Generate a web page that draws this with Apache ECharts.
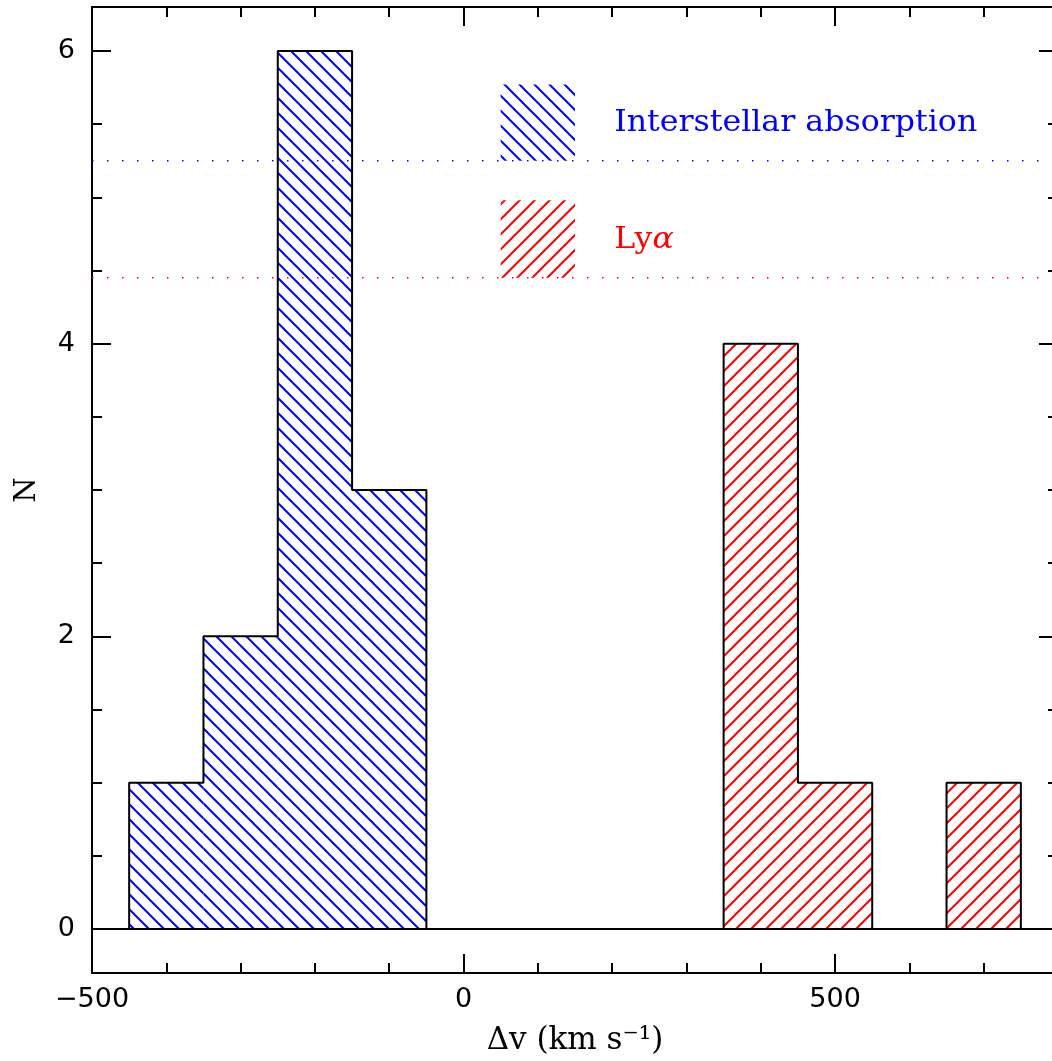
<!DOCTYPE html>
<html>
<head>
<meta charset="utf-8">
<title>Velocity offsets</title>
<script src="https://cdn.jsdelivr.net/npm/echarts@6/dist/echarts.min.js"></script>
<style>
  html, body { margin: 0; padding: 0; background: #fff; overflow: hidden; }
  #chart { width: 1060px; height: 1061px; }
</style>
</head>
<body>
<div id="chart"></div>
<script>
// Histogram bins (km/s), 100 km/s wide
const binCenters = [-400, -300, -200, -100, 0, 100, 200, 300, 400, 500, 600, 700];
const binWidth = 100;
const interstellarCounts = [1, 2, 6, 3, 0, 0, 0, 0, 0, 0, 0, 0];
const lyaCounts = [0, 0, 0, 0, 0, 0, 0, 0, 4, 1, 0, 1];

// Axis ticks
const xMajorTicks = [-500, 0, 500];
const xMinorTicks = [-400, -300, -200, -100, 100, 200, 300, 400, 600, 700];
const yMajorTicks = [0, 2, 4, 6];
const yMinorTicks = [0.5, 1, 1.5, 2.5, 3, 3.5, 4.5, 5, 5.5];

const legendLabels = ['Interstellar absorption', 'Lyα'];

const X_MIN = -500, X_MAX = 800, Y_MIN = -0.3, Y_MAX = 6.3;
const BLUE = '#0000ff', RED = '#ff0000';

// Diagonal hatch tile; dir = 1 for "\" lines, -1 for "/" lines
function hatch(color, dir) {
  const s = 15;
  const c = document.createElement('canvas');
  c.width = s; c.height = s;
  const g = c.getContext('2d');
  g.strokeStyle = color;
  g.lineWidth = 2;
  for (const k of [-s, 0, s]) {
    g.beginPath();
    if (dir > 0) { g.moveTo(k - 1, -1); g.lineTo(k + s + 1, s + 1); }
    else { g.moveTo(k - 1, s + 1); g.lineTo(k + s + 1, -1); }
    g.stroke();
  }
  return { image: c, repeat: 'repeat' };
}
const blueHatch = hatch(BLUE, 1);
const redHatch = hatch(RED, -1);

// Filled bins [lo, hi, count]
function bars(counts) {
  const out = [];
  binCenters.forEach((c, i) => {
    if (counts[i] > 0) out.push([c - binWidth / 2, c + binWidth / 2, counts[i]]);
  });
  return out;
}

// Stepped outline over the whole axis range
function outline(counts) {
  const pts = [[X_MIN, 0], [binCenters[0] - binWidth / 2, 0]];
  binCenters.forEach((c, i) => {
    pts.push([c - binWidth / 2, counts[i]], [c + binWidth / 2, counts[i]]);
  });
  pts.push([binCenters[binCenters.length - 1] + binWidth / 2, 0], [X_MAX, 0]);
  return pts;
}

function barSeries(counts, fill) {
  return {
    type: 'custom',
    xAxisIndex: 0, yAxisIndex: 0,
    clip: true,
    data: bars(counts),
    renderItem: function (params, api) {
      const p0 = api.coord([api.value(0), api.value(2)]);
      const p1 = api.coord([api.value(1), 0]);
      return {
        type: 'rect',
        shape: { x: p0[0], y: p0[1], width: p1[0] - p0[0], height: p1[1] - p0[1] },
        style: { fill: fill, stroke: null }
      };
    },
    z: 2
  };
}

function outlineSeries(counts) {
  return {
    type: 'line',
    xAxisIndex: 0, yAxisIndex: 0,
    data: outline(counts),
    showSymbol: false, symbol: 'none',
    lineStyle: { color: '#000', width: 2 },
    clip: true,
    z: 4
  };
}

// Legend swatch with its label, placed in data coordinates
function legendSeries(label, fill, color, y0, y1) {
  return {
    type: 'custom',
    xAxisIndex: 0, yAxisIndex: 0,
    data: [[50, 150, y0, y1]],
    renderItem: function (params, api) {
      const a = api.coord([api.value(0), api.value(3)]);
      const b = api.coord([api.value(1), api.value(2)]);
      const t = api.coord([200, (api.value(2) + api.value(3)) / 2]);
      const isLya = label === 'Lyα';
      return {
        type: 'group',
        children: [
          { type: 'rect', shape: { x: a[0], y: a[1], width: b[0] - a[0], height: b[1] - a[1] },
            style: { fill: fill } },
          { type: 'text', x: t[0] + 2, y: t[1] + 1, scaleX: 1.09,
            style: isLya ? {
              text: '{a|Ly}{g|α}',
              verticalAlign: 'middle', align: 'left',
              rich: {
                a: { fontFamily: 'DejaVu Serif', fontSize: 29, fill: color },
                g: { fontFamily: 'DejaVu Serif', fontSize: 29, fontStyle: 'italic', fill: color }
              }
            } : {
              text: label, fill: color,
              font: '29px "DejaVu Serif"',
              verticalAlign: 'middle', align: 'left'
            } }
        ]
      };
    },
    z: 3
  };
}

function dottedLine(color, y) {
  return {
    type: 'line',
    xAxisIndex: 0, yAxisIndex: 0,
    data: [[X_MIN, y], [X_MAX, y]],
    showSymbol: false, symbol: 'none',
    lineStyle: { color: color, width: 1.5, type: [1.5, 13.5] },
    z: 1
  };
}

const labelFont = { fontFamily: 'DejaVu Sans', fontSize: 27, color: '#000' };

function xAxisDef(position, ticks, len, opts) {
  return Object.assign({
    type: 'value', position: position, min: X_MIN, max: X_MAX,
    axisLine: { show: true, onZero: false, lineStyle: { color: '#000', width: 2 } },
    axisTick: { show: true, inside: true, length: len, customValues: ticks,
      lineStyle: { color: '#000', width: 2 } },
    axisLabel: { show: false },
    splitLine: { show: false }
  }, opts || {});
}
function yAxisDef(position, ticks, len, opts) {
  return Object.assign({
    type: 'value', position: position, min: Y_MIN, max: Y_MAX,
    axisLine: { show: true, onZero: false, lineStyle: { color: '#000', width: 2 } },
    axisTick: { show: true, inside: true, length: len, customValues: ticks,
      lineStyle: { color: '#000', width: 2 } },
    axisLabel: { show: false },
    splitLine: { show: false }
  }, opts || {});
}

const chart = echarts.init(document.getElementById('chart'), null, { renderer: 'canvas' });
chart.setOption({
  animation: false,
  backgroundColor: '#fff',
  grid: { left: 92, top: 7, width: 966, height: 967, containLabel: false },
  xAxis: [
    xAxisDef('bottom', xMajorTicks, 19, {
      axisLabel: Object.assign({ show: true, customValues: xMajorTicks, margin: 13,
        formatter: v => String(v).replace('-', '\u2212') }, labelFont),
      name: 'Δv (km s⁻¹)',
      nameLocation: 'middle', nameGap: 52,
      nameTextStyle: { fontFamily: 'DejaVu Serif', fontSize: 31, color: '#000' }
    }),
    xAxisDef('bottom', xMinorTicks, 10),
    xAxisDef('top', xMajorTicks, 19),
    xAxisDef('top', xMinorTicks, 10)
  ],
  yAxis: [
    yAxisDef('left', yMajorTicks, 19, {
      axisLabel: Object.assign({ show: true, customValues: yMajorTicks, margin: 17 }, labelFont),
      name: 'N',
      nameLocation: 'middle', nameGap: 50,
      nameTextStyle: { fontFamily: 'DejaVu Serif', fontSize: 29, color: '#000' }
    }),
    yAxisDef('left', yMinorTicks, 10),
    yAxisDef('right', yMajorTicks, 19),
    yAxisDef('right', yMinorTicks, 10)
  ],
  series: [
    dottedLine(BLUE, 5.25),
    dottedLine(RED, 4.45),
    barSeries(interstellarCounts, blueHatch),
    barSeries(lyaCounts, redHatch),
    outlineSeries(interstellarCounts),
    outlineSeries(lyaCounts),
    legendSeries(legendLabels[0], blueHatch, BLUE, 5.25, 5.77),
    legendSeries(legendLabels[1], redHatch, RED, 4.45, 4.98)
  ]
});
</script>
</body>
</html>
